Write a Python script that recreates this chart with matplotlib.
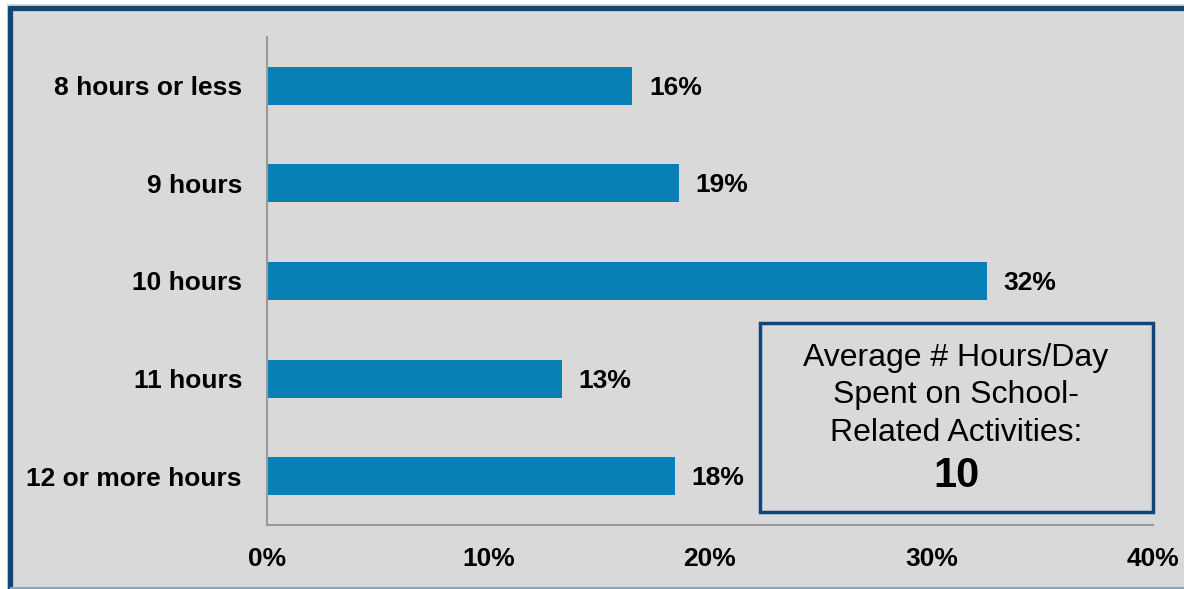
import matplotlib.pyplot as plt
from matplotlib.patches import Rectangle

plt.rcParams['font.family'] = ['Liberation Sans', 'DejaVu Sans']

categories = ['8 hours or less', '9 hours', '10 hours', '11 hours', '12 or more hours']
values = [16.5, 18.6, 32.5, 13.3, 18.4]
value_labels = ['16%', '19%', '32%', '13%', '18%']
xticks = [0, 10, 20, 30, 40]
xtick_labels = ['0%', '10%', '20%', '30%', '40%']
box_lines = ['Average # Hours/Day', 'Spent on School-', 'Related Activities:']
box_value = '10'

bg = '#d9d9d9'
bar_color = '#0980b5'
frame_color = '#0f4677'

fig = plt.figure(figsize=(11.84, 5.89), dpi=100, facecolor='white')

# gray panel with dark blue frame (left/top), light line at bottom
W, H = 1184, 589
fig.patches.append(Rectangle((7 / W, 0), 1, 1 - 4 / H, transform=fig.transFigure,
                             facecolor=bg, edgecolor='none', zorder=-10))
fig.add_artist(plt.Line2D([9.5 / W, 9.5 / W], [0, 1 - 5.6 / H], transform=fig.transFigure,
                          color=frame_color, lw=3.8, solid_capstyle='butt'))
fig.add_artist(plt.Line2D([7.6 / W, 1], [1 - 7.5 / H, 1 - 7.5 / H], transform=fig.transFigure,
                          color=frame_color, lw=3.8, solid_capstyle='butt'))
fig.add_artist(plt.Line2D([11 / W, 1], [1.2 / H, 1.2 / H], transform=fig.transFigure,
                          color='#8aa3bb', lw=1.5))

ax = fig.add_axes([267 / W, 1 - 525 / H, (1153 - 267) / W, (525 - 37) / H])
ax.set_facecolor('none')

y = list(range(len(categories)))
ax.barh(y, values, height=0.39, color=bar_color)
for yi, v, lab in zip(y, values, value_labels):
    ax.annotate(lab, (v, yi), xytext=(12, -1.5), textcoords='offset points',
                va='center', ha='left', fontsize=19, fontweight='bold')

ax.set_xlim(0, 40)
ax.set_ylim(4.5, -0.5)
ax.set_yticks(y)
ax.set_yticklabels(categories, fontsize=19, fontweight='bold')
ax.set_xticks(xticks)
ax.set_xticklabels(xtick_labels, fontsize=19, fontweight='bold')
ax.tick_params(axis='both', length=0)
ax.tick_params(axis='y', pad=18)
ax.tick_params(axis='x', pad=16)

for s in ['top', 'right']:
    ax.spines[s].set_visible(False)
for s in ['left', 'bottom']:
    ax.spines[s].set_color('#9a9a9a')
    ax.spines[s].set_linewidth(1.5)

# summary box
fig.patches.append(Rectangle((760 / W, 1 - 512 / H), (1153 - 760) / W, (512 - 323) / H,
                             transform=fig.transFigure, facecolor='none',
                             edgecolor=frame_color, lw=2.5, zorder=5))
cx = 956 / W
for i, line in enumerate(box_lines):
    fig.text(cx, 1 - (358 + 37.5 * i) / H, line, ha='center', va='center', fontsize=23)
fig.text(cx, 1 - 476 / H, box_value, ha='center', va='center', fontsize=30, fontweight='bold')

fig.savefig('out.png', dpi=100, facecolor='white')
